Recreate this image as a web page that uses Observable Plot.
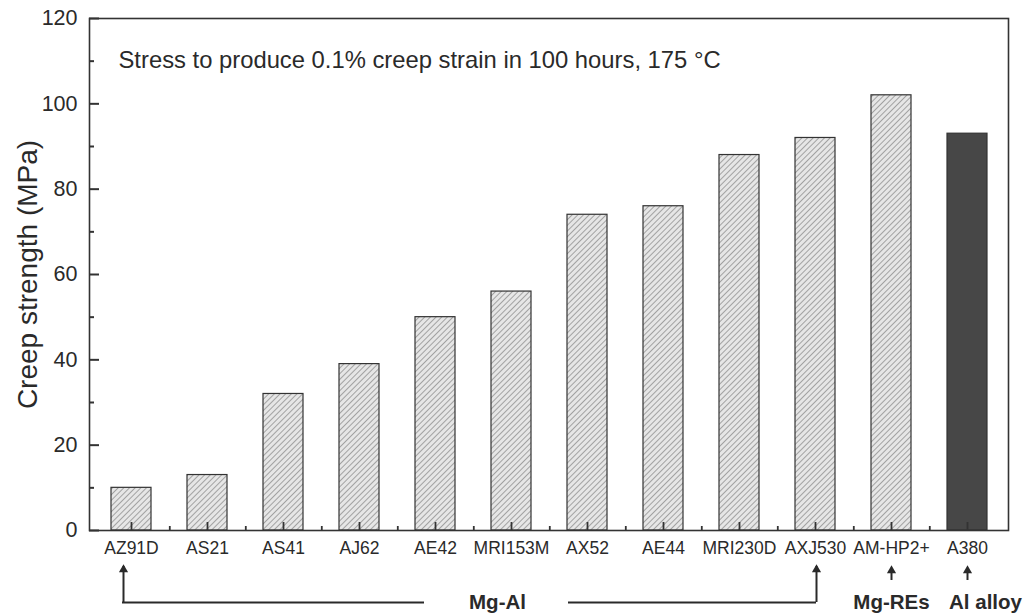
<!DOCTYPE html>
<html>
<head>
<meta charset="utf-8">
<script src="https://cdn.jsdelivr.net/npm/d3@7"></script>
<script src="https://cdn.jsdelivr.net/npm/@observablehq/plot@0.6"></script>
<style>
  html, body { margin: 0; padding: 0; background: #fff; }
  #chart { width: 1032px; height: 616px; }
  svg { font-family: "Liberation Sans", Arial, sans-serif; }
</style>
</head>
<body>
<div id="chart"></div>
<script>
// ---- data ----
const alloys = ["AZ91D", "AS21", "AS41", "AJ62", "AE42", "MRI153M", "AX52", "AE44", "MRI230D", "AXJ530", "AM-HP2+", "A380"];
const strength = [10, 13, 32, 39, 50, 56, 74, 76, 88, 92, 102, 93];
const alloyFamily = ["Mg-Al", "Mg-Al", "Mg-Al", "Mg-Al", "Mg-Al", "Mg-Al", "Mg-Al", "Mg-Al", "Mg-Al", "Mg-Al", "Mg-REs", "Al alloy"];
const yMajorTicks = [0, 20, 40, 60, 80, 100, 120];
const yMinorTicks = [10, 30, 50, 70, 90, 110];
const titleText = "Stress to produce 0.1% creep strain in 100 hours, 175 \u00B0C";
const yLabel = "Creep strength (MPa)";

const rows = alloys.map((a, i) => ({alloy: a, value: strength[i], family: alloyFamily[i]}));

// ---- layout ----
const W = 1032, H = 616;
const mL = 89, mR = 24, mT = 18, mB = 86;
const step = (W - mL - mR) / alloys.length;
const frameW = W - mL - mR;
const frameH = H - mT - mB;
const ink = "#2a2a2a";

const chart = Plot.plot({
  width: W,
  height: H,
  marginLeft: mL,
  marginRight: mR,
  marginTop: mT,
  marginBottom: mB,
  style: {fontFamily: '"Liberation Sans", Arial, sans-serif', color: ink, background: "#fff"},
  x: {domain: alloys, paddingInner: 0.48, paddingOuter: 0.24, label: null},
  y: {domain: [0, 120], label: null},
  marks: [
    // bars
    Plot.barY(rows, {filter: d => d.family !== "Al alloy", x: "alloy", y: "value", fill: "url(#hatch)", stroke: "#333", strokeWidth: 1.2}),
    Plot.barY(rows, {filter: d => d.family === "Al alloy", x: "alloy", y: "value", fill: "#474747", stroke: "#333", strokeWidth: 1.2}),
    // frame
    Plot.frame({stroke: "#333", strokeWidth: 1.6}),
    // y axis labels
    Plot.axisY({ticks: yMajorTicks, tickSize: 0, tickPadding: 12, fontSize: 21.5, fill: ink}),
    // inward y ticks
    Plot.tickY(yMajorTicks, {y: d => d, insetRight: frameW - 10, stroke: "#333", strokeWidth: 2}),
    Plot.tickY(yMinorTicks, {y: d => d, insetRight: frameW - 5, stroke: "#333", strokeWidth: 2}),
    // x axis labels
    Plot.axisX({tickSize: 0, tickPadding: 11, fontSize: 17.5, fill: ink}),
    // inward x ticks
    Plot.tickX(alloys, {x: d => d, insetTop: frameH - 8, stroke: "#333", strokeWidth: 1.8}),
    Plot.tickX(alloys.slice(0, -1), {x: d => d, dx: step / 2, insetTop: frameH - 4, stroke: "#333", strokeWidth: 1.8}),
    // y label
    Plot.text([yLabel], {frameAnchor: "left", textAnchor: "middle", rotate: -90, dx: -61, fontSize: 28, fill: ink}),
    // in-plot annotation
    Plot.text([titleText], {frameAnchor: "top-left", textAnchor: "start", dx: 29, dy: 33, fontSize: 23.8, fill: ink}),
    // group bracket: Mg-Al
    Plot.ruleX(["AZ91D"], {x: d => d, dx: -8, insetTop: frameH - 36, dy: 72, stroke: ink, strokeWidth: 2}),
    Plot.ruleX(["AXJ530"], {x: d => d, dx: 1, insetTop: frameH - 36, dy: 72, stroke: ink, strokeWidth: 2}),
    Plot.ruleY([0], {x1: () => "AZ91D", x2: () => "AE42", insetLeft: 11, insetRight: 31, dy: 72, stroke: ink, strokeWidth: 2}),
    Plot.ruleY([0], {x1: () => "MRI153M", x2: () => "AXJ530", insetLeft: 77, insetRight: 19, dy: 72, stroke: ink, strokeWidth: 2}),
    Plot.dot(["AZ91D"], {x: d => d, dx: -8, frameAnchor: "bottom", dy: 39, symbol: "triangle", r: 3.4, fill: ink, stroke: "none"}),
    Plot.dot(["AXJ530"], {x: d => d, dx: 1, frameAnchor: "bottom", dy: 39, symbol: "triangle", r: 3.4, fill: ink, stroke: "none"}),
    // short arrows: Mg-REs, Al alloy
    Plot.ruleX(["AM-HP2+", "A380"], {x: d => d, insetTop: frameH - 12, dy: 50, stroke: ink, strokeWidth: 2}),
    Plot.dot(["AM-HP2+", "A380"], {x: d => d, frameAnchor: "bottom", dy: 40, symbol: "triangle", r: 3.4, fill: ink, stroke: "none"}),
    // group names
    Plot.text(rows.filter(d => d.family === "Mg-REs"), {x: "alloy", text: "family", frameAnchor: "bottom", dy: 78, fontSize: 20.5, fontWeight: "bold", fill: ink}),
    Plot.text(rows.filter(d => d.family === "Al alloy"), {x: "alloy", text: "family", frameAnchor: "bottom", dx: 18, dy: 78, fontSize: 20.5, fontWeight: "bold", fill: ink}),
    Plot.text(["Mg-Al"], {x: () => "MRI153M", frameAnchor: "bottom", dx: -14, dy: 78, fontSize: 20.5, fontWeight: "bold", fill: ink})
  ]
});

// hatch pattern definition
const defs = d3.select(chart).insert("defs", ":first-child");
const pat = defs.append("pattern").attr("id", "hatch").attr("patternUnits", "userSpaceOnUse")
  .attr("width", 4).attr("height", 4).attr("patternTransform", "rotate(45)");
pat.append("rect").attr("width", 4).attr("height", 4).attr("fill", "#e6e6e6");
pat.append("line").attr("x1", 0).attr("y1", 0).attr("x2", 0).attr("y2", 4).attr("stroke", "#8c8c8c").attr("stroke-width", 1.5);

document.getElementById("chart").appendChild(chart);
</script>
</body>
</html>
